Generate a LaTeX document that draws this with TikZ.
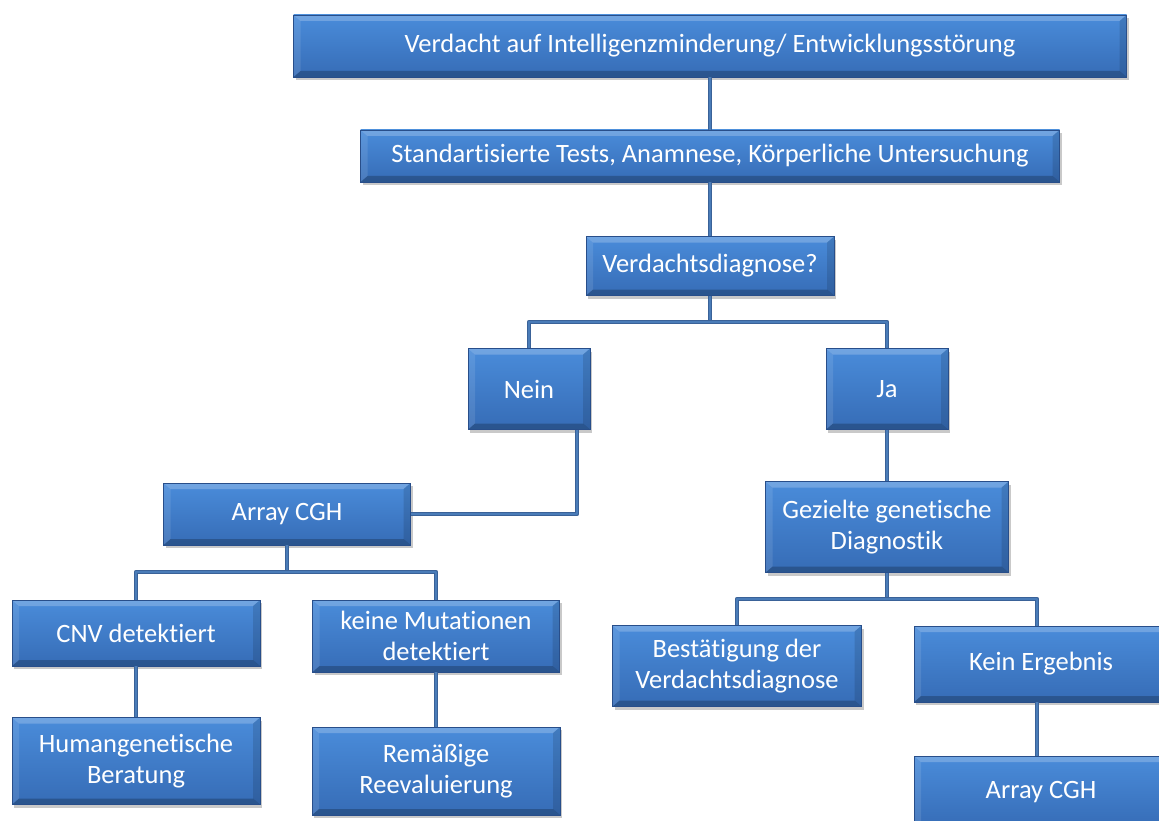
\documentclass[tikz,border=0pt]{standalone}
\usepackage{fontspec}
\setmainfont[Ligatures=NoCommon]{Carlito}
\usetikzlibrary{shadows,calc}
\definecolor{boxtop}{RGB}{74,140,218}
\definecolor{boxbot}{RGB}{54,108,182}
\definecolor{boxedge}{RGB}{40,78,138}
\definecolor{linecol}{RGB}{74,124,184}
\definecolor{lineedge}{RGB}{58,98,152}
\tikzset{
  bbox/.style={rectangle, inner sep=0pt, align=center, text=white,
    font=\fontsize{26.5}{30.5}\selectfont,
    top color=boxtop, bottom color=boxbot, draw=boxedge, line width=0.6pt,
    drop shadow={shadow xshift=2pt, shadow yshift=-3pt, opacity=0.35, fill=black!60},
    path picture={
      \fill[white, opacity=0.22] (path picture bounding box.north west) -- (path picture bounding box.north east)
        -- ([xshift=-7pt,yshift=-6pt]path picture bounding box.north east) -- ([xshift=7pt,yshift=-6pt]path picture bounding box.north west) -- cycle;
      \fill[black, opacity=0.22] (path picture bounding box.south west) -- (path picture bounding box.south east)
        -- ([xshift=-7pt,yshift=6pt]path picture bounding box.south east) -- ([xshift=7pt,yshift=6pt]path picture bounding box.south west) -- cycle;
      \fill[black, opacity=0.12] (path picture bounding box.north east) -- (path picture bounding box.south east)
        -- ([xshift=-7pt,yshift=6pt]path picture bounding box.south east) -- ([xshift=-7pt,yshift=-6pt]path picture bounding box.north east) -- cycle;
      \fill[white, opacity=0.10] (path picture bounding box.north west) -- (path picture bounding box.south west)
        -- ([xshift=7pt,yshift=6pt]path picture bounding box.south west) -- ([xshift=7pt,yshift=-6pt]path picture bounding box.north west) -- cycle;
    }},
  conn/.style={draw=lineedge, line width=4.6pt, line join=round,
    postaction={draw=linecol, line width=2.8pt}},
}
\begin{document}
\begin{tikzpicture}[x=1pt,y=-1pt]
\clip (0,0) rectangle (1159,821);
\useasboundingbox (0,0) rectangle (1159,821);
\fill[white] (0,0) rectangle (1159,821);
\coordinate (j1) at (710,322);
\coordinate (j2) at (287,572);
\coordinate (j3) at (887,599);
% nodes
\node[bbox, minimum width=833pt, minimum height=62pt] (top) at (710,46) {Verdacht auf Intelligenzminderung/ Entwicklungsstörung};
\node[bbox, minimum width=699pt, minimum height=52pt] (tests) at (710,156) {Standartisierte Tests, Anamnese, Körperliche Untersuchung};
\node[bbox, minimum width=248pt, minimum height=59pt] (vd) at (710,266) {Verdachtsdiagnose?};
\node[bbox, minimum width=122pt, minimum height=81pt] (nein) at (529,389) {Nein};
\node[bbox, minimum width=122pt, minimum height=81pt] (ja) at (887,389) {Ja};
\node[bbox, minimum width=247pt, minimum height=62pt] (acgh) at (287,514) {Array CGH};
\node[bbox, minimum width=243pt, minimum height=91pt] (gez) at (887,527) {Gezielte genetische\\Diagnostik};
\node[bbox, minimum width=248pt, minimum height=66pt] (cnv) at (136,633) {CNV detektiert};
\node[bbox, minimum width=247pt, minimum height=72pt] (keine) at (436,636) {keine Mutationen\\detektiert};
\node[bbox, minimum width=248pt, minimum height=87pt] (hum) at (136,761) {Humangenetische\\Beratung};
\node[bbox, minimum width=248pt, minimum height=88pt] (rem) at (436,771) {Remäßige\\Reevaluierung};
\node[bbox, minimum width=249pt, minimum height=81pt] (best) at (737,666) {Bestätigung der\\Verdachtsdiagnose};
\node[bbox, minimum width=254pt, minimum height=76pt] (kein) at (1041,664) {Kein Ergebnis};
\node[bbox, minimum width=254pt, minimum height=72pt] (acgh2) at (1041,792) {Array CGH};
% connectors
\draw[conn] (top.south) -- (tests.north);
\draw[conn] (tests.south) -- (vd.north);
\draw[conn] (vd.south) -- (j1);
\draw[conn] (j1) -| (nein.north);
\draw[conn] (j1) -| (ja.north);
\draw[conn] ([xshift=48pt]nein.south) |- (acgh.east);
\draw[conn] (ja.south) -- (gez.north);
\draw[conn] (acgh.south) -- (j2);
\draw[conn] (j2) -| (cnv.north);
\draw[conn] (j2) -| (keine.north);
\draw[conn] (cnv.south) -- (hum.north);
\draw[conn] (keine.south) -- (rem.north);
\draw[conn] (gez.south) -- (j3);
\draw[conn] (j3) -| (best.north);
\draw[conn] (j3) -| ([xshift=-4pt]kein.north);
\draw[conn] ([xshift=-4pt]kein.south) -- ([xshift=-4pt]acgh2.north);
\end{tikzpicture}
\end{document}
